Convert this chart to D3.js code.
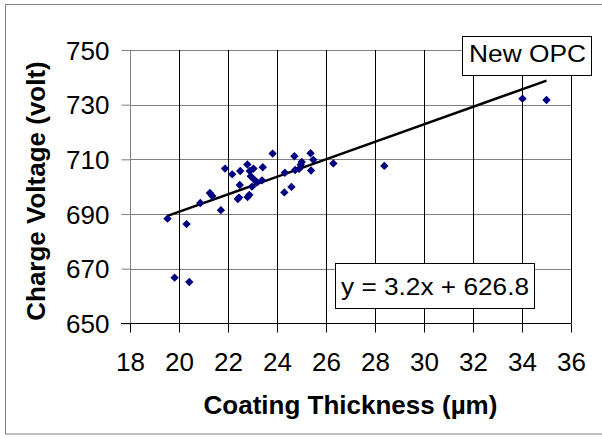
<!DOCTYPE html>
<html><head><meta charset="utf-8">
<script src="https://cdn.jsdelivr.net/npm/d3@7"></script>
<style>html,body{margin:0;padding:0;background:#fff;}svg{display:block;}</style>
</head><body>
<svg id="chart" width="602" height="439"></svg>
<script>
const thickness = [19.53,19.82,20.31,20.42,20.87,21.26,21.36,21.71,21.88,22.17,22.40,22.45,22.50,22.48,22.79,22.80,22.87,22.89,22.93,22.98,23.04,23.09,23.18,23.39,23.42,23.82,24.30,24.32,24.59,24.71,24.74,24.90,24.97,25.01,25.37,25.39,25.48,26.30,28.38,34.02,35.00];
const voltage   = [688.3,666.7,686.3,665.1,694.0,697.7,696.6,691.4,706.6,704.5,695.5,696.0,705.7,700.6,708.1,696.2,697.0,705.7,703.8,700.0,706.6,702.4,701.5,702.3,707.1,712.1,697.9,705.1,699.9,711.1,706.1,706.5,708.0,709.0,712.2,705.9,709.8,708.5,707.6,732.2,731.7];
const xTicks = [18,20,22,24,26,28,30,32,34,36];
const yTicks = [650,670,690,710,730,750];
const trendSlope = 3.2, trendIntercept = 626.8;
const seriesName = "New OPC";
const xTitle = "Coating Thickness (µm)";
const yTitle = "Charge Voltage (volt)";
const eqText = "y = 3.2x + 626.8";

const svg = d3.select("#chart");
const font = "Liberation Sans, Arial, sans-serif";
const x = d3.scaleLinear().domain([18,36]).range([130,571]);
const y = d3.scaleLinear().domain([650,750]).range([323.3,50]);

// outer frame
svg.append("rect").attr("x",5.5).attr("y",4.5).attr("width",600).attr("height",429.5)
  .attr("fill","#fff").attr("stroke","#808080").attr("stroke-width",1);

// horizontal gridlines (gray)
svg.append("g").selectAll("line").data(yTicks.filter(d=>d>650)).join("line")
  .attr("x1",x(18)).attr("x2",x(36))
  .attr("y1",d=>Math.round(y(d))+0.5).attr("y2",d=>Math.round(y(d))+0.5)
  .attr("stroke","#808080").attr("stroke-width",1);
// vertical gridlines (black)
svg.append("g").selectAll("line").data(xTicks.filter(d=>d>18)).join("line")
  .attr("x1",d=>Math.round(x(d))+0.5).attr("x2",d=>Math.round(x(d))+0.5)
  .attr("y1",y(750)).attr("y2",y(650))
  .attr("stroke","#000").attr("stroke-width",1);

// axes
const yAxis = d3.axisLeft(y).tickValues(yTicks).tickSize(9).tickPadding(12).tickFormat(d3.format("d"));
const gy = svg.append("g").attr("transform",`translate(${Math.round(x(18))+0.5},0)`).call(yAxis);
gy.select(".domain").attr("stroke","#808080").attr("d",`M0,${y(750)}V${y(650)+9}`);
gy.selectAll(".tick line").attr("stroke","#808080");
gy.selectAll(".tick text").attr("font-family",font).attr("font-size",26).attr("fill","#000").attr("dy","0.35em");

const xAxis = d3.axisBottom(x).tickValues(xTicks).tickSize(9).tickPadding(20).tickFormat(d3.format("d"));
const gx = svg.append("g").attr("transform",`translate(0,${Math.round(y(650))+0.5})`).call(xAxis);
gx.select(".domain").attr("stroke","#000").attr("d",`M${x(18)-9},0H${x(36)}`);
gx.selectAll(".tick line").attr("stroke","#000");
gx.selectAll(".tick text").attr("font-family",font).attr("font-size",26).attr("fill","#000");

// trendline
const xmin = d3.min(thickness), xmax = d3.max(thickness);
svg.append("line")
  .attr("x1",x(xmin)).attr("y1",y(trendSlope*xmin+trendIntercept))
  .attr("x2",x(xmax)).attr("y2",y(trendSlope*xmax+trendIntercept))
  .attr("stroke","#000").attr("stroke-width",2.5);

// points
const pts = thickness.map((t,i)=>({t,v:voltage[i]}));
svg.append("g").selectAll("path").data(pts).join("path")
  .attr("transform",d=>`translate(${x(d.t)},${y(d.v)})`)
  .attr("d","M0,-4.2L4.2,0L0,4.2L-4.2,0Z")
  .attr("fill","#000080");

// legend box
svg.append("rect").attr("x",462.5).attr("y",36.5).attr("width",129).attr("height",39)
  .attr("fill","#fff").attr("stroke","#000");
svg.append("text").attr("x",469).attr("y",62).attr("font-family",font).attr("font-size",24)
  .attr("textLength",117).attr("lengthAdjust","spacingAndGlyphs").text(seriesName);

// equation box
svg.append("rect").attr("x",335.5).attr("y",263.5).attr("width",199).attr("height",45)
  .attr("fill","#fff").attr("stroke","#000");
svg.append("text").attr("x",341).attr("y",295).attr("font-family",font).attr("font-size",24)
  .attr("textLength",188).attr("lengthAdjust","spacingAndGlyphs").text(eqText);

// titles
svg.append("text").attr("x",(x(18)+x(36))/2).attr("y",414).attr("text-anchor","middle")
  .attr("font-family",font).attr("font-size",26).attr("font-weight","bold").text(xTitle);
svg.append("text").attr("transform",`translate(45,191) rotate(-90)`).attr("text-anchor","middle")
  .attr("font-family",font).attr("font-size",26).attr("font-weight","bold").text(yTitle);
</script>
</body></html>
